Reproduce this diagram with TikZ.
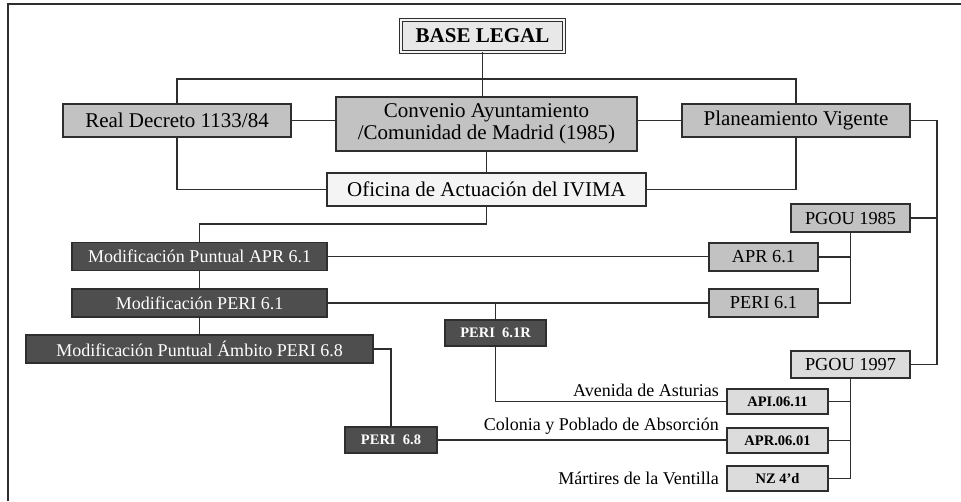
\documentclass[tikz,border=0pt]{standalone}
\usepackage{fontspec}
\setmainfont{Liberation Serif}
\usetikzlibrary{shapes}
\definecolor{lineCol}{HTML}{2E2E2E}
\definecolor{grayFill}{HTML}{C2C2C2}
\definecolor{lightFill}{HTML}{DCDCDC}
\definecolor{paleFill}{HTML}{F4F4F4}
\definecolor{darkFill}{HTML}{4E4E4E}

\begin{document}
\begin{tikzpicture}
[x=1pt,y=-1pt,
  lineDecorate/.style={-,line width=1.1pt,draw=lineCol},%
  boxDecorate/.style={shape=rectangle,draw=lineCol,line width=1.4pt,inner sep=0pt,align=center},%
  grayDecorate/.style={boxDecorate,fill=grayFill,font=\fontsize{21}{21}\selectfont},%
  paleDecorate/.style={boxDecorate,fill=paleFill,font=\fontsize{21}{21}\selectfont},%
  darkDecorate/.style={boxDecorate,fill=darkFill,text=white,font=\fontsize{18}{18}\selectfont},%
  smallDecorate/.style={boxDecorate,fill=grayFill,font=\fontsize{18.3}{18}\selectfont},%
  codeDecorate/.style={boxDecorate,fill=lightFill,font=\bfseries\fontsize{14.5}{14}\selectfont},%
  darkCodeDecorate/.style={codeDecorate,fill=darkFill,text=white},%
  labelDecorate/.style={anchor=east,inner sep=0pt,font=\fontsize{18}{18}\selectfont}]
\useasboundingbox (0,0) rectangle (961,501);
%% frame
\draw[line width=1.6pt,draw=lineCol] (8,501) -- (8,4) -- (961,4);
%% top boxes
\node (base) at (482.5,36) [paleDecorate,fill=paleFill!90!gray,double=paleFill,double distance=2pt,
  line width=0.9pt,minimum width=163pt,minimum height=32pt,font=\bfseries\fontsize{21}{21}\selectfont] {BASE LEGAL};
\node (conv) at (486.5,124) [grayDecorate,minimum width=301pt,minimum height=54pt]
  {Convenio Ayuntamiento\\[1pt]/Comunidad de Madrid (1985)};
\node (ofi) at (486.5,189.5) [paleDecorate,minimum width=319pt,minimum height=33pt] {Oficina de Actuación del IVIMA};
\foreach \nodename/\x/\y/\txt in {
  real/177/120.5/{Real Decreto 1133/84}, plan/796/120.5/{Planeamiento Vigente}}
{
  \node (\nodename) at (\x,\y) [grayDecorate,minimum width=228pt,minimum height=33pt] {\txt};
}
%% modifications
\foreach \nodename/\x/\y/\w/\txt in {
  modapr/199.5/256.5/255/{Modificación Puntual APR 6.1},
  modperi/199.5/303/255/{Modificación PERI 6.1},
  modamb/199.5/349/347/{Modificación Puntual Ámbito PERI 6.8}}
{
  \node (\nodename) at (\x,\y) [darkDecorate,minimum width=\w pt,minimum height=28pt] {\txt};
}
%% plans
\foreach \nodename/\x/\y/\w/\txt in {
  apr/763.5/257/109/{APR 6.1}, peri/763.5/303/109/{PERI 6.1},
  pgouA/850.5/218/119/{PGOU 1985}}
{
  \node (\nodename) at (\x,\y) [smallDecorate,minimum width=\w pt,minimum height=28pt] {\txt};
}
\node (pgouB) at (850.5,364.5) [smallDecorate,fill=lightFill,minimum width=119pt,minimum height=27pt] {PGOU 1997};
%% codes
\foreach \nodename/\x/\y/\txt in {
  api/777.5/401.5/{API.06.11}, aprB/777.5/440.5/{APR.06.01}, nz/777.5/478.5/{NZ 4\char"27d}}
{
  \node (\nodename) at (\x,\y) [codeDecorate,minimum width=101pt,minimum height=25pt] {\txt};
}
\node (periR) at (495.5,333) [darkCodeDecorate,minimum width=101pt,minimum height=26pt] {PERI\ \ 6.1R};
\node (periE) at (391,440) [darkCodeDecorate,minimum width=92pt,minimum height=26pt] {PERI\ \ 6.8};
%% labels
\node (lblA) at (719,390) [labelDecorate] {Avenida de Asturias};
\node (lblB) at (719,426) [labelDecorate] {Colonia y Poblado de Absorción};
\node (lblC) at (719,478.5) [labelDecorate] {Mártires de la Ventilla};
%% junctions
\coordinate (busT) at (482.5,79);
\coordinate (busO) at (486.5,224);
\coordinate (busR) at (937,364.5);
%% edges or lines
\draw[lineDecorate] (base.south) -- (base.south |- conv.north);
\draw[lineDecorate] (real.north) |- (busT) -| (plan.north);
\draw[lineDecorate] (real.east) -- (real.east -| conv.west);
\draw[lineDecorate] (plan.west) -- (plan.west -| conv.east);
\draw[lineDecorate] (real.south) |- (ofi.west);
\draw[lineDecorate] (plan.south) |- (ofi.east);
\draw[lineDecorate] (conv.south) -- (ofi.north);
\draw[lineDecorate] (ofi.south) -- (busO) -| (modapr.north);
\draw[lineDecorate] (modapr.south) -- (modperi.north);
\draw[lineDecorate] (modperi.south) -- (modamb.north);
\draw[lineDecorate] (modapr.east) -- (modapr.east -| apr.west);
\draw[lineDecorate] (modperi.east) -- (peri.west);
\draw[lineDecorate] (periR.north) -- (periR.north |- modperi.east);
\draw[lineDecorate] (periR.south) |- (api.west);
\draw[lineDecorate] (modamb.east) -| (periE.north);
\draw[lineDecorate] (periE.east) -- (periE.east -| aprB.west);
\draw[lineDecorate] (plan.east) -| (busR) -- (pgouB.east);
\draw[lineDecorate] (pgouA.east) -- (pgouA.east -| busR);
\draw[lineDecorate] (pgouA.south) |- (peri.east);
\draw[lineDecorate] (apr.east) -- (apr.east -| pgouA.south);
\draw[lineDecorate] (pgouB.south) |- (nz.east);
\draw[lineDecorate] (api.east) -- (api.east -| pgouB.south);
\draw[lineDecorate] (aprB.east) -- (aprB.east -| pgouB.south);
\end{tikzpicture}
\end{document}
